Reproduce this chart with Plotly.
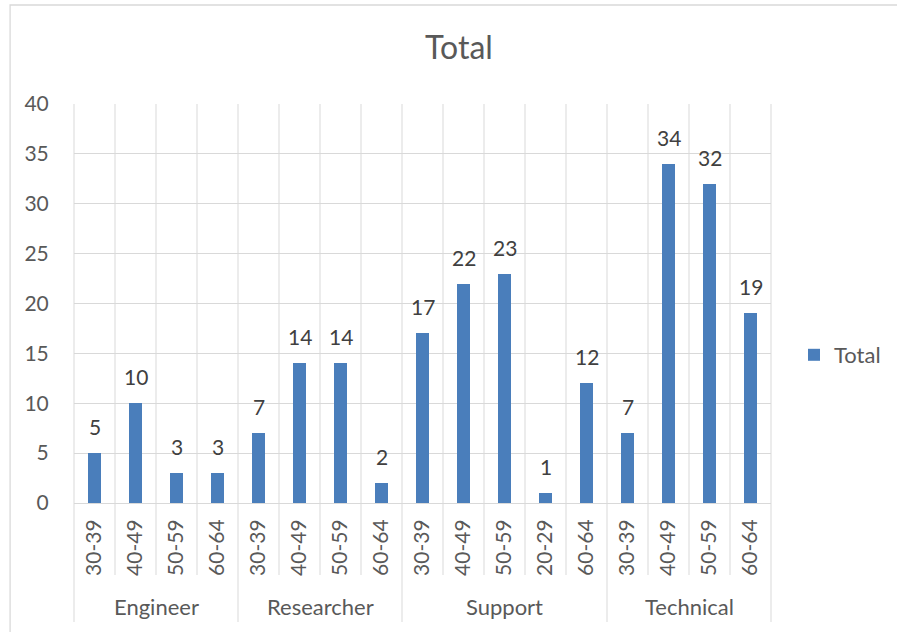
import plotly.graph_objects as go

groups = ["Engineer", "Researcher", "Support", "Technical"]
group_sizes = [4, 4, 5, 4]
age_labels = ["30-39", "40-49", "50-59", "60-64",
              "30-39", "40-49", "50-59", "60-64",
              "30-39", "40-49", "50-59", "20-29", "60-64",
              "30-39", "40-49", "50-59", "60-64"]
totals = [5, 10, 3, 3,
          7, 14, 14, 2,
          17, 22, 23, 1, 12,
          7, 34, 32, 19]
y_ticks = [0, 5, 10, 15, 20, 25, 30, 35, 40]

BAR = "#4A7EBB"
GRID = "#D9D9D9"
TXT = "#595959"
FONT = "Lato"

W, H = 897, 632
L, R, T, B = 74, 772, 104, 503

n = len(totals)
xs = list(range(n))
x_lo, x_hi = -0.5, n - 0.5

def px_y(py):
    return (B - py) / (B - T)

def px_x(px):
    return (px - L) / (R - L)

def bx(b):
    return (b - x_lo) / (x_hi - x_lo)

fig = go.Figure()
fig.add_trace(go.Bar(x=xs, y=totals, name="Total", marker=dict(color=BAR, line=dict(width=0)),
                     width=0.31, showlegend=True, hoverinfo="skip"))

shapes = []
bounds_group = [0]
for s in group_sizes:
    bounds_group.append(bounds_group[-1] + s)
for k in range(n + 1):
    xb = bx(k - 0.5)
    y_bottom = px_y(622) if k in bounds_group else px_y(575)
    shapes.append(dict(type="line", xref="paper", yref="paper", x0=xb, x1=xb, y0=y_bottom, y1=1,
                       line=dict(color=GRID, width=1), layer="below"))
shapes.append(dict(type="rect", xref="paper", yref="paper", x0=px_x(10), x1=px_x(910),
                   y0=px_y(650), y1=px_y(5), line=dict(color=GRID, width=1.3), layer="below"))

annotations = []
for i, v in enumerate(totals):
    annotations.append(dict(x=i, y=v, xref="x", yref="y", text=str(v), showarrow=False,
                            yanchor="bottom", yshift=12, font=dict(family=FONT, size=21, color="#404040")))
start = 0
for g, s in zip(groups, group_sizes):
    annotations.append(dict(x=start + (s - 1) / 2, y=px_y(606), xref="x", yref="paper", text=g,
                            showarrow=False, yanchor="middle",
                            font=dict(family=FONT, size=22, color=TXT)))
    start += s

fig.update_layout(
    width=W, height=H,
    margin=dict(l=L, r=W - R, t=T, b=H - B, pad=0),
    paper_bgcolor="white", plot_bgcolor="white",
    title=dict(text="Total", x=459 / W, xref="container", xanchor="center",
               y=1 - 48 / H, yref="container", yanchor="middle",
               font=dict(family=FONT, size=32, color=TXT)),
    xaxis=dict(range=[x_lo, x_hi], tickmode="array", tickvals=xs, ticktext=age_labels,
               tickangle=-90, showgrid=False, zeroline=False, showline=False,
               ticks="outside", ticklen=7, tickcolor="rgba(0,0,0,0)",
               tickfont=dict(family=FONT, size=21, color=TXT), fixedrange=True),
    yaxis=dict(range=[0, 40], tickmode="array", tickvals=y_ticks, showgrid=True, gridcolor=GRID,
               gridwidth=1, zeroline=True, zerolinecolor=GRID, zerolinewidth=1, showline=False,
               ticks="outside", ticklen=20, tickcolor="rgba(0,0,0,0)",
               tickfont=dict(family=FONT, size=21, color=TXT), fixedrange=True),
    legend=dict(x=px_x(794), y=px_y(355), xanchor="left", yanchor="middle",
                font=dict(family=FONT, size=22, color=TXT), bgcolor="rgba(0,0,0,0)"),
    shapes=shapes, annotations=annotations, bargap=0,
)

fig.write_html("out.html", config={"displayModeBar": False},
               post_script="document.body.style.margin='0px';")
